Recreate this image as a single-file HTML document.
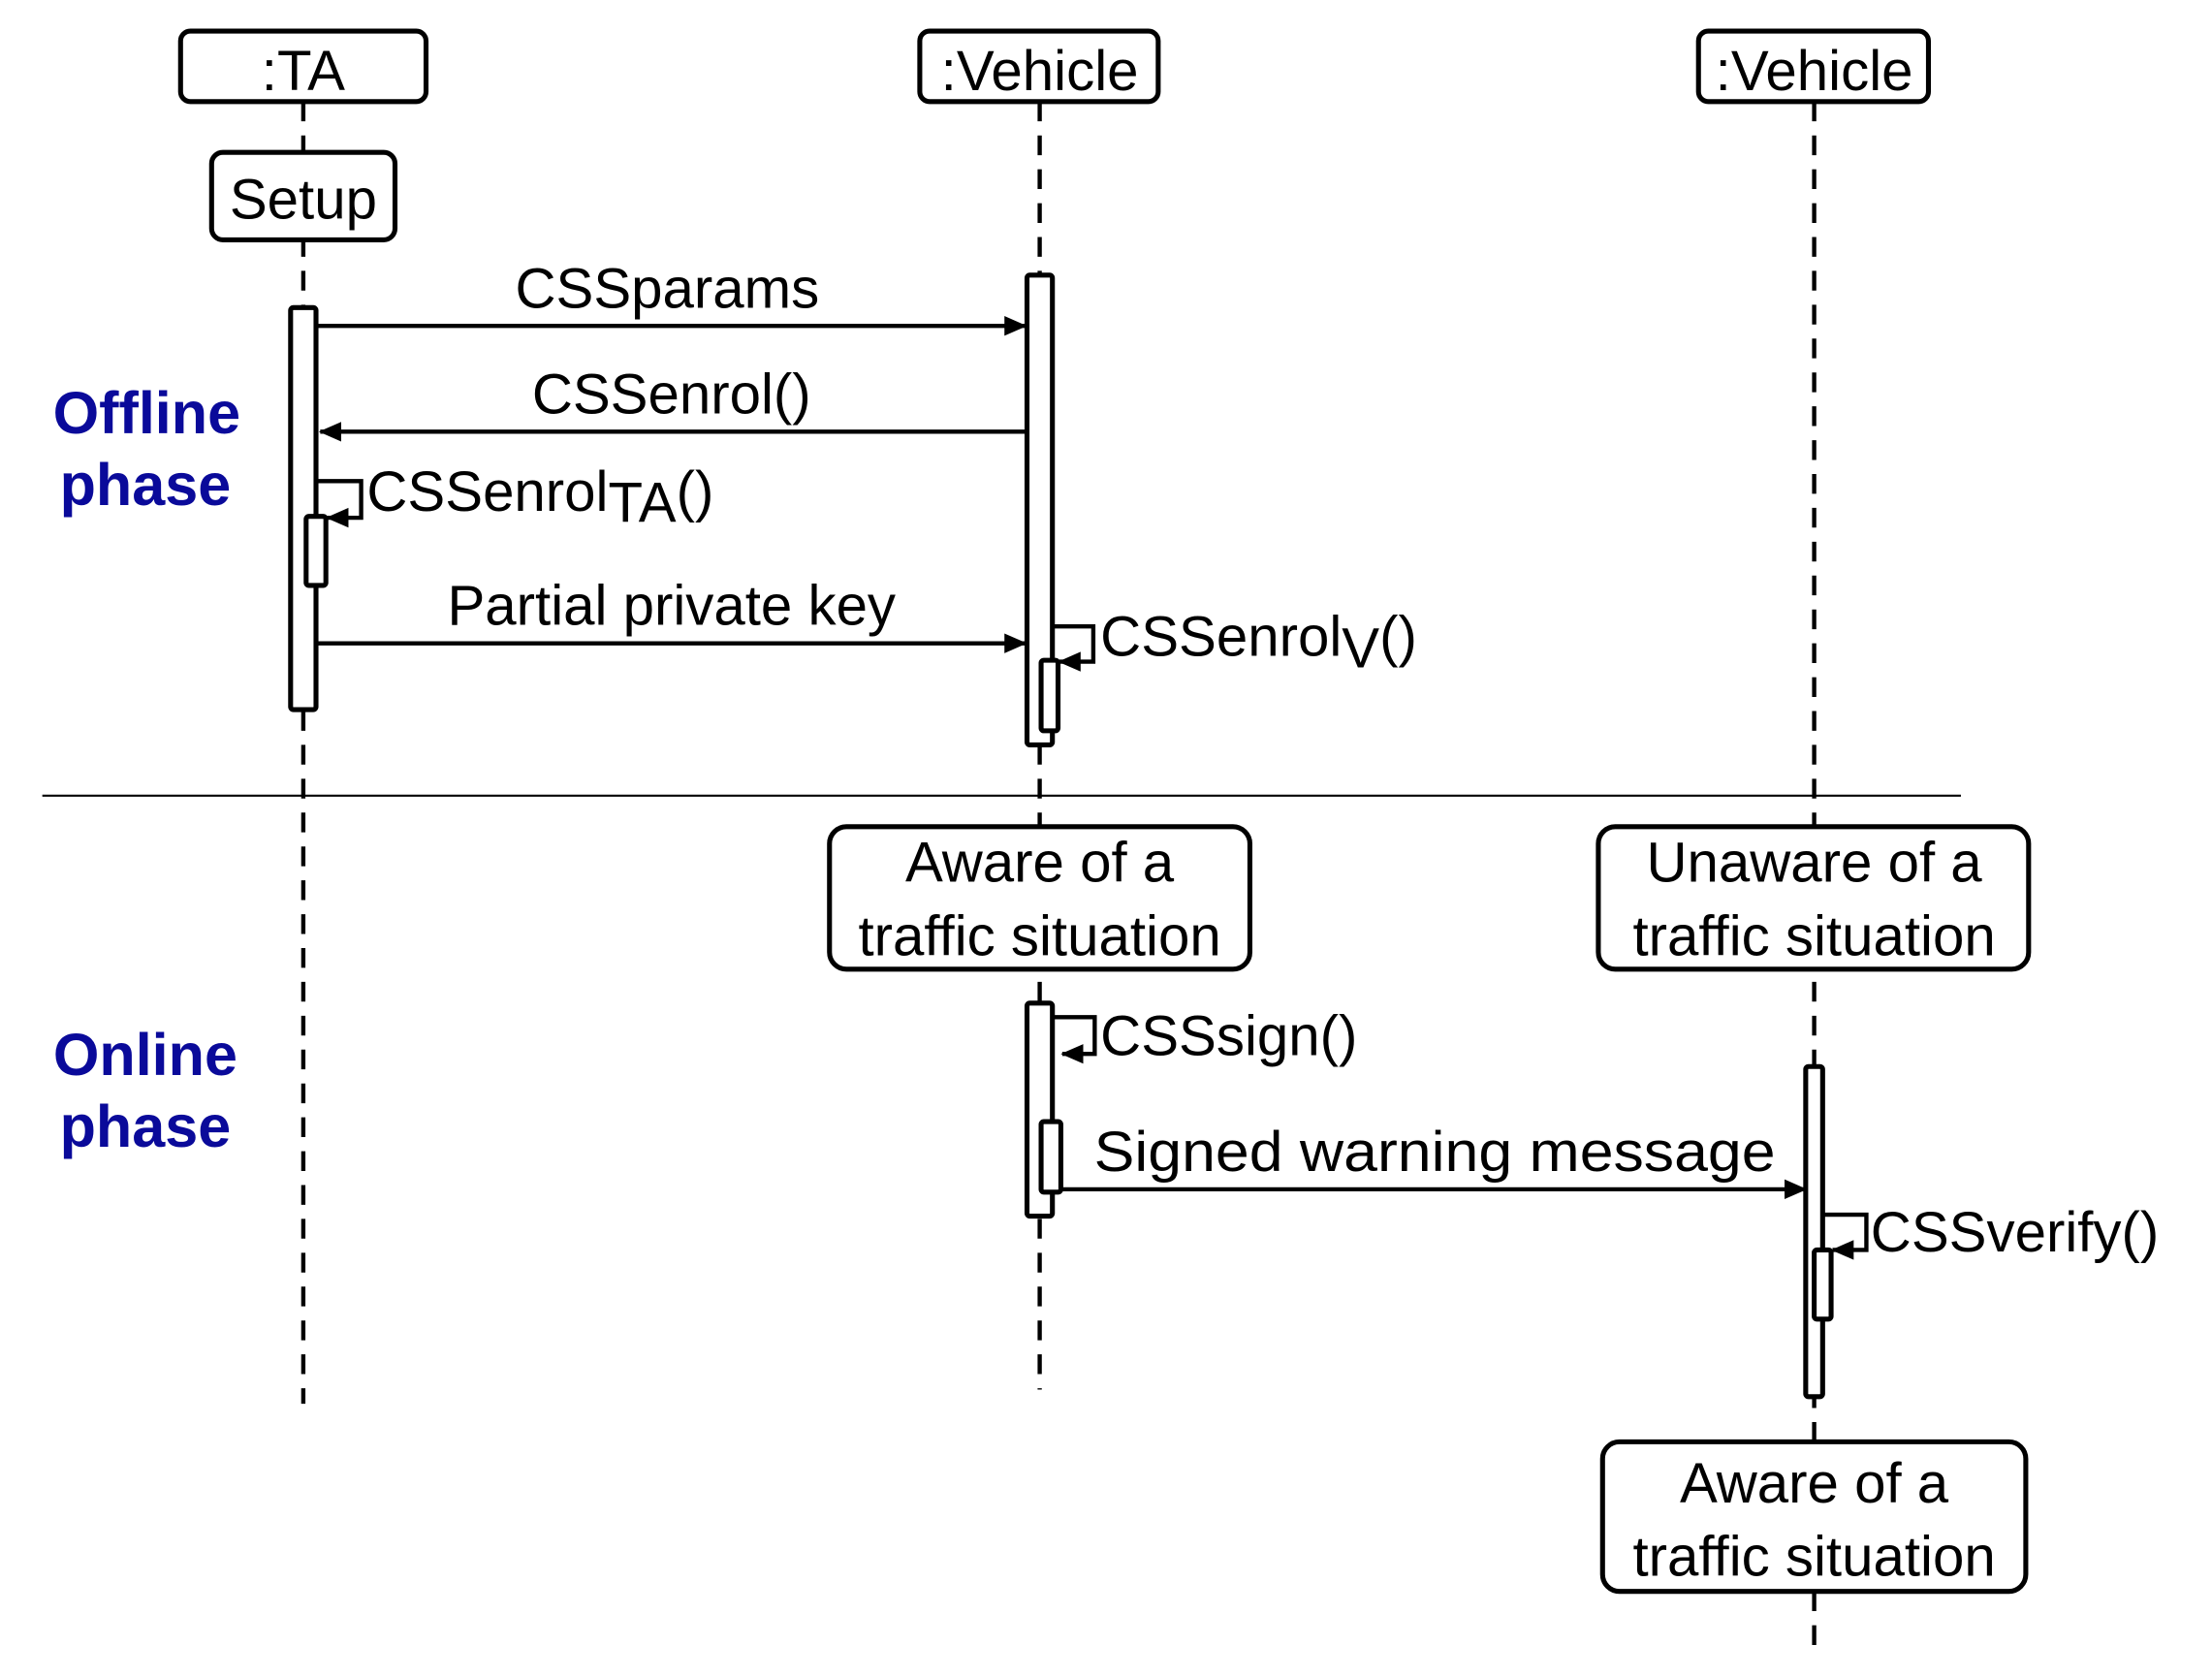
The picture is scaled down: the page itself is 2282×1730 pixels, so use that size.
<!DOCTYPE html>
<html><head><meta charset="utf-8"><style>html,body{margin:0;padding:0;background:#fff}svg{display:block}</style></head>
<body>
<svg width="2282" height="1730" viewBox="0 0 1568 1188.7" xmlns="http://www.w3.org/2000/svg" font-family="Liberation Sans, Arial, sans-serif">
<defs>
<marker id="a" markerWidth="16" markerHeight="16" refX="15" refY="8" orient="auto" markerUnits="userSpaceOnUse" viewBox="0 0 16 16"><path d="M0,1 L16,8 L0,15 z" fill="#000"/></marker>
</defs>
<rect width="1568" height="1189" fill="#fff"/>
<g stroke="#000" stroke-width="3" stroke-dasharray="14,10" fill="none">
<line x1="215" y1="72" x2="215" y2="995"/>
<line x1="737" y1="72" x2="737" y2="985"/>
<line x1="1286" y1="72" x2="1286" y2="1170"/>
</g>
<line x1="30" y1="564" x2="1390" y2="564" stroke="#000" stroke-width="1.5"/>
<g stroke="#000" stroke-width="3.5" fill="#fff">
<rect x="128" y="22" width="174" height="50" rx="7"/>
<rect x="652" y="22" width="169" height="50" rx="7"/>
<rect x="1204" y="22" width="163" height="50" rx="7"/>
<rect x="150" y="108" width="130" height="62" rx="8"/>
<rect x="588" y="586" width="298" height="101" rx="12"/>
<rect x="1133" y="586" width="305" height="101" rx="12"/>
<rect x="1136" y="1022" width="300" height="106" rx="12"/>
<rect x="206" y="218" width="18" height="285" rx="2"/>
<rect x="217" y="366" width="14" height="49" rx="2"/>
<rect x="728" y="195" width="18" height="333" rx="2"/>
<rect x="738" y="468" width="12" height="50" rx="2"/>
<rect x="728" y="711" width="18" height="151" rx="2"/>
<rect x="738" y="795" width="14" height="50" rx="2"/>
<rect x="1280" y="756" width="12" height="234" rx="2"/>
<rect x="1286" y="886" width="12" height="49" rx="2"/>
</g>
<g stroke="#000" stroke-width="3" fill="none" marker-end="url(#a)">
<line x1="225" y1="231" x2="727" y2="231"/>
<line x1="727" y1="306" x2="227" y2="306"/>
<line x1="225" y1="456" x2="727" y2="456"/>
<line x1="753" y1="843" x2="1280" y2="843"/>
<polyline points="225,341 256,341 256,367 232,367"/>
<polyline points="747,444 775,444 775,469 751,469"/>
<polyline points="747,721 776,721 776,747 753,747"/>
<polyline points="1293,861 1323,861 1323,886 1299,886"/>
</g>
<g font-size="40" fill="#000">
<text x="215" y="64" text-anchor="middle">:TA</text>
<text x="737" y="64" text-anchor="middle">:Vehicle</text>
<text x="1286" y="64" text-anchor="middle">:Vehicle</text>
<text x="215" y="155" text-anchor="middle">Setup</text>
<text x="473" y="218" text-anchor="middle">CSSparams</text>
<text x="476" y="293" text-anchor="middle">CSSenrol()</text>
<text x="260" y="362">CSSenrol<tspan dy="8">TA</tspan><tspan dy="-8">()</tspan></text>
<text x="476" y="443" text-anchor="middle">Partial private key</text>
<text x="780" y="465">CSSenrol<tspan dy="8">V</tspan><tspan dy="-8">()</tspan></text>
<text x="737" y="625" text-anchor="middle">Aware of a</text>
<text x="737" y="677" text-anchor="middle">traffic situation</text>
<text x="1286" y="625" text-anchor="middle">Unaware of a</text>
<text x="1286" y="677" text-anchor="middle">traffic situation</text>
<text x="780" y="748">CSSsign()</text>
<text x="1017" y="830" text-anchor="middle" textLength="483" lengthAdjust="spacingAndGlyphs">Signed warning message</text>
<text x="1326" y="887">CSSverify()</text>
<text x="1286" y="1065" text-anchor="middle">Aware of a</text>
<text x="1286" y="1117" text-anchor="middle">traffic situation</text>
</g>
<g font-size="42" font-weight="bold" fill="#0a0a9a">
<text x="104" y="307" text-anchor="middle">Offline</text>
<text x="103" y="358" text-anchor="middle">phase</text>
<text x="103" y="762" text-anchor="middle">Online</text>
<text x="103" y="813" text-anchor="middle">phase</text>
</g>
</svg>
</body></html>
